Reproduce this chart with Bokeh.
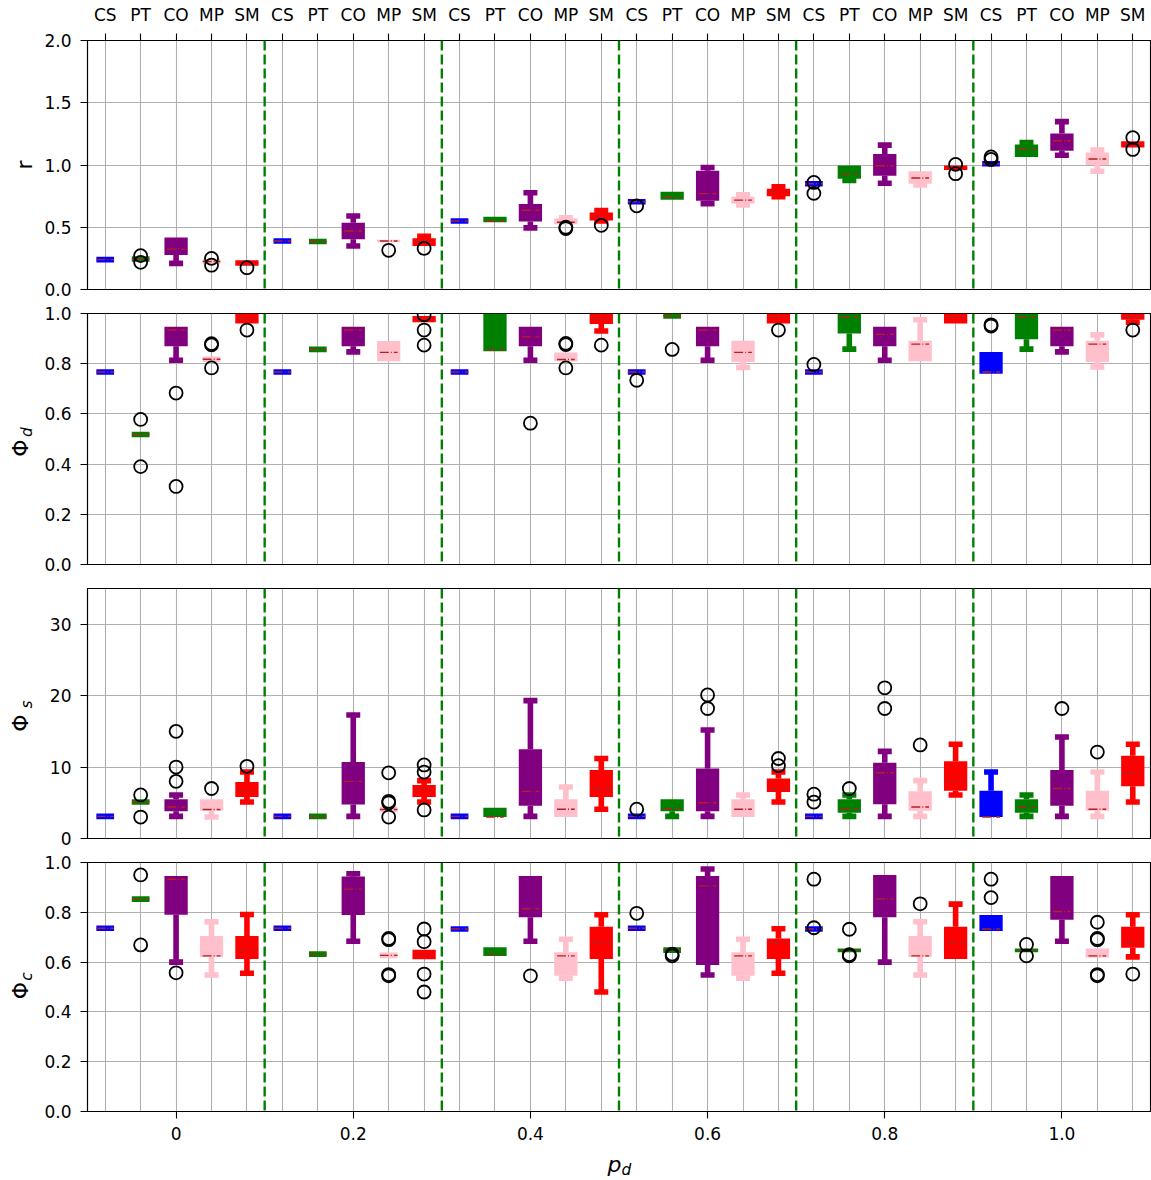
import math
from bokeh.plotting import figure
from bokeh.layouts import column, row
from bokeh.models import FixedTicker, Span, ColumnDataSource, PrintfTickFormatter, Range1d
from bokeh.core.properties import value
from bokeh.embed import file_html
from bokeh.resources import INLINE

# ---------------- data ----------------
PD_VALUES = [0.0, 0.2, 0.4, 0.6, 0.8, 1.0]
METHODS = ["CS", "PT", "CO", "MP", "SM"]
XTICK_LABELS = ["0", "0.2", "0.4", "0.6", "0.8", "1.0"]

# each list: 30 entries, ordered by p_d then method (CS, PT, CO, MP, SM)
# r
R_WLO = [0.24, 0.245, 0.21, 0.225, 0.19,
         0.39, 0.385, 0.35, 0.38, 0.35,
         0.55, 0.54, 0.495, 0.525, 0.55,
         0.705, 0.72, 0.69, 0.68, 0.745,
         0.85, 0.875, 0.853, 0.84, 0.96,
         1.01, 1.065, 1.078, 0.95, 1.14]
R_Q1 = [0.24, 0.245, 0.278, 0.225, 0.19,
        0.39, 0.385, 0.404, 0.38, 0.35,
        0.55, 0.54, 0.546, 0.525, 0.555,
        0.705, 0.72, 0.712, 0.69, 0.75,
        0.85, 0.89, 0.913, 0.85, 0.96,
        1.01, 1.065, 1.115, 1.0, 1.14]
R_MED = [0.24, 0.245, 0.324, 0.225, 0.2,
         0.39, 0.385, 0.47, 0.39, 0.39,
         0.55, 0.55, 0.637, 0.54, 0.583,
         0.705, 0.74, 0.77, 0.718, 0.785,
         0.85, 0.927, 0.994, 0.895, 0.98,
         1.01, 1.13, 1.195, 1.048, 1.165]
R_Q3 = [0.24, 0.245, 0.417, 0.225, 0.235,
        0.39, 0.385, 0.537, 0.4, 0.412,
        0.55, 0.585, 0.686, 0.57, 0.618,
        0.705, 0.785, 0.954, 0.745, 0.81,
        0.85, 0.995, 1.088, 0.95, 0.995,
        1.01, 1.165, 1.254, 1.1, 1.19]
R_WHI = [0.24, 0.245, 0.417, 0.225, 0.235,
         0.39, 0.385, 0.59, 0.4, 0.428,
         0.55, 0.585, 0.777, 0.575, 0.635,
         0.705, 0.785, 0.98, 0.76, 0.825,
         0.85, 0.995, 1.16, 0.95, 0.995,
         1.01, 1.18, 1.348, 1.12, 1.19]
R_OUT = [[], [0.272, 0.218], [], [0.25, 0.195], [0.175],
         [], [], [], [0.315], [0.33],
         [], [], [], [0.5, 0.49], [0.515],
         [0.672], [], [], [], [],
         [0.86, 0.772], [], [], [], [1.005, 0.93],
         [1.065, 1.045], [], [], [], [1.22, 1.125]]

# Phi_d
D_WLO = [0.767, 0.518, 0.814, 0.818, 0.96,
         0.767, 0.857, 0.847, 0.81, 0.965,
         0.767, 0.85, 0.814, 0.81, 0.93,
         0.767, 0.99, 0.814, 0.785, 0.96,
         0.767, 0.858, 0.814, 0.81, 0.96,
         0.76, 0.858, 0.847, 0.787, 0.965]
D_Q1 = [0.767, 0.518, 0.87, 0.818, 0.96,
        0.767, 0.857, 0.87, 0.81, 0.965,
        0.767, 0.85, 0.87, 0.81, 0.958,
        0.767, 0.99, 0.87, 0.807, 0.96,
        0.767, 0.92, 0.87, 0.81, 0.96,
        0.76, 0.897, 0.87, 0.807, 0.975]
D_MED = [0.767, 0.518, 0.934, 0.818, 0.98,
         0.767, 0.857, 0.934, 0.845, 0.98,
         0.767, 0.855, 0.907, 0.817, 0.98,
         0.767, 0.99, 0.934, 0.845, 0.985,
         0.767, 0.985, 0.917, 0.878, 0.985,
         0.767, 0.985, 0.934, 0.878, 0.985]
D_Q3 = [0.767, 0.518, 0.947, 0.818, 1.0,
        0.767, 0.857, 0.947, 0.89, 0.99,
        0.767, 1.0, 0.947, 0.845, 1.0,
        0.767, 0.99, 0.947, 0.891, 1.0,
        0.767, 1.0, 0.947, 0.891, 1.0,
        0.847, 1.0, 0.947, 0.891, 1.0]
D_WHI = [0.767, 0.518, 0.947, 0.818, 1.0,
         0.767, 0.857, 0.947, 0.89, 0.99,
         0.767, 1.0, 0.947, 0.845, 1.0,
         0.767, 0.99, 0.947, 0.891, 1.0,
         0.767, 1.0, 0.947, 0.975, 1.0,
         0.847, 1.0, 0.947, 0.915, 1.0]
D_OUT = [[], [0.578, 0.39], [0.683, 0.311], [0.88, 0.875, 0.783], [0.934],
         [], [], [], [], [0.995, 0.934, 0.874],
         [], [], [0.563], [0.881, 0.876, 0.783], [0.874],
         [0.734], [0.857], [], [], [0.934],
         [0.797], [], [], [], [],
         [0.955, 0.95], [], [], [], [0.934]]

# Phi_s
S_WLO = [3.1, 5.1, 3.1, 3.0, 5.1,
         3.1, 3.1, 3.1, 4.05, 5.1,
         3.1, 3.0, 3.1, 3.0, 4.1,
         3.1, 3.1, 3.1, 3.0, 5.1,
         3.1, 3.1, 3.1, 3.1, 6.1,
         3.0, 3.1, 3.1, 3.1, 5.1]
S_Q1 = [3.1, 5.1, 3.8, 3.9, 5.8,
        3.1, 3.1, 4.75, 4.05, 5.8,
        3.1, 3.0, 4.6, 3.0, 5.8,
        3.1, 3.8, 3.8, 3.0, 6.5,
        3.1, 3.6, 4.8, 3.9, 6.7,
        3.0, 3.6, 4.6, 3.9, 7.3]
S_MED = [3.1, 5.1, 4.4, 4.05, 6.7,
         3.1, 3.1, 8.0, 4.05, 6.9,
         3.1, 3.0, 6.6, 4.1, 7.0,
         3.1, 4.1, 5.0, 4.1, 7.0,
         3.1, 4.1, 9.2, 4.4, 8.0,
         3.0, 4.4, 7.0, 4.1, 9.2]
S_Q3 = [3.1, 5.1, 5.5, 5.5, 7.9,
        3.1, 3.1, 10.7, 4.05, 7.5,
        3.1, 4.3, 12.5, 5.5, 9.6,
        3.1, 5.5, 9.8, 5.5, 8.4,
        3.1, 5.5, 10.6, 6.6, 10.8,
        6.7, 5.5, 9.6, 6.7, 11.6]
S_WHI = [3.1, 5.1, 6.1, 5.5, 9.3,
         3.1, 3.1, 17.3, 4.05, 8.1,
         3.1, 4.3, 19.3, 7.2, 11.2,
         3.1, 5.5, 15.2, 6.1, 9.3,
         3.1, 6.1, 12.2, 8.1, 13.2,
         9.3, 6.1, 14.2, 9.3, 13.2]
S_OUT = [[], [6.1, 3.0], [15.0, 10.0, 8.0], [7.0], [10.1],
         [], [], [], [9.2, 5.2, 5.0, 3.0], [10.3, 9.3, 4.0],
         [], [], [], [], [],
         [4.1], [], [20.1, 18.2], [], [11.2, 10.2],
         [6.2, 5.1], [7.0], [21.1, 18.2], [13.1], [],
         [], [], [18.2], [12.1], []]

# Phi_c
C_WLO = [0.736, 0.853, 0.6, 0.548, 0.555,
         0.736, 0.632, 0.684, 0.627, 0.611,
         0.733, 0.625, 0.684, 0.535, 0.48,
         0.736, 0.648, 0.548, 0.535, 0.555,
         0.733, 0.64, 0.6, 0.548, 0.612,
         0.725, 0.64, 0.684, 0.618, 0.621]
C_Q1 = [0.736, 0.853, 0.79, 0.62, 0.612,
        0.736, 0.632, 0.789, 0.627, 0.611,
        0.733, 0.625, 0.78, 0.545, 0.612,
        0.736, 0.648, 0.588, 0.545, 0.612,
        0.733, 0.64, 0.78, 0.62, 0.612,
        0.725, 0.64, 0.77, 0.618, 0.658]
C_MED = [0.736, 0.853, 0.933, 0.625, 0.648,
         0.736, 0.632, 0.893, 0.627, 0.625,
         0.733, 0.632, 0.814, 0.625, 0.68,
         0.736, 0.648, 0.906, 0.625, 0.679,
         0.733, 0.648, 0.854, 0.625, 0.679,
         0.733, 0.648, 0.803, 0.625, 0.679]
C_Q3 = [0.736, 0.853, 0.946, 0.705, 0.705,
        0.736, 0.632, 0.944, 0.627, 0.65,
        0.733, 0.66, 0.946, 0.64, 0.742,
        0.736, 0.648, 0.946, 0.64, 0.695,
        0.733, 0.655, 0.95, 0.705, 0.742,
        0.789, 0.655, 0.946, 0.655, 0.742]
C_WHI = [0.736, 0.853, 0.946, 0.762, 0.791,
         0.736, 0.632, 0.955, 0.627, 0.65,
         0.733, 0.66, 0.946, 0.692, 0.79,
         0.736, 0.648, 0.974, 0.692, 0.734,
         0.733, 0.655, 0.95, 0.762, 0.833,
         0.789, 0.655, 0.946, 0.655, 0.79]
C_OUT = [[], [0.95, 0.669], [0.557], [], [],
         [], [], [], [0.695, 0.69, 0.55, 0.545], [0.733, 0.682, 0.552, 0.48],
         [], [], [0.545], [], [],
         [0.796], [0.632, 0.625], [], [], [],
         [0.933, 0.738], [0.732, 0.63, 0.625], [], [0.834], [],
         [0.933, 0.859], [0.671, 0.625], [], [0.76, 0.695, 0.69, 0.55, 0.545], [0.552]]

# ---------------- layout / style ----------------
OFFSETS = [-0.08, -0.04, 0.0, 0.04, 0.08]
COLORS = ["#0000ff", "#008000", "#800080", "#ffc0cb", "#ff0000"]
MEDIAN_COLOR = "#b22222"
FONT = "DejaVu Sans"
TICK_FS = "17px"
LABEL_FS = "22px"
SUB_FS = "15.4px"
LAB_W = 40            # width of the strip holding the y labels
PAGE_W = 1151
W = PAGE_W - LAB_W    # width of each panel figure
PANELS_H = 1145       # height of the stacked panels
STRIP_H = 33          # height of the x-label strip
TOTAL_H = PANELS_H + STRIP_H
LW = 5.6

positions = [round(pdv + off, 2) for pdv in PD_VALUES for off in OFFSETS]
separators = [round((PD_VALUES[i] + PD_VALUES[i + 1]) / 2, 2) for i in range(len(PD_VALUES) - 1)]
x_range = Range1d(-0.1, 1.1)


def make_fig(height, y_end, yticks, yfmt, top, bottom, xloc):
    p = figure(width=W, height=height, x_range=x_range, y_range=Range1d(0, y_end),
               output_backend="svg", toolbar_location=None, x_axis_location=xloc,
               min_border_left=87 - LAB_W, min_border_right=1,
               min_border_top=top, min_border_bottom=bottom)
    p.background_fill_color = "white"
    p.border_fill_color = "white"
    p.outline_line_color = "black"
    p.outline_line_width = 1.1
    p.yaxis.ticker = FixedTicker(ticks=yticks)
    p.yaxis.formatter = PrintfTickFormatter(format=yfmt)
    for ax in p.axis:
        ax.major_label_text_font = FONT
        ax.major_label_text_font_size = TICK_FS
        ax.major_label_text_color = "black"
        ax.axis_line_color = "black"
        ax.axis_line_width = 1.1
        ax.major_tick_line_color = "black"
        ax.major_tick_line_width = 1.1
        ax.major_tick_out = 7
        ax.major_tick_in = 0
        ax.minor_tick_out = 0
        ax.minor_tick_in = 0
    p.yaxis.major_label_standoff = 9
    p.ygrid.grid_line_color = "#b0b0b0"
    p.ygrid.grid_line_width = 1.1
    p.xgrid.ticker = FixedTicker(ticks=positions)
    p.xgrid.grid_line_color = "#b0b0b0"
    p.xgrid.grid_line_width = 1.1
    for s in separators:
        p.add_layout(Span(location=s, dimension="height", line_color="#008000",
                          line_dash="10 4", line_width=2.4))
    return p


def draw_boxes(p, wlo, q1, med, q3, whi, outs):
    box = dict(x=[], y=[], h=[], c=[])
    deg = dict(x=[], y=[], c=[])
    wsk = dict(x=[], y0=[], y1=[], c=[])
    cap = dict(x=[], y=[], c=[])
    mdn = dict(x0=[], x1=[], y=[])
    fl = dict(x=[], y=[])
    for i, x in enumerate(positions):
        c = COLORS[i % len(METHODS)]
        if q3[i] > q1[i]:
            box["x"].append(x); box["y"].append((q1[i] + q3[i]) / 2)
            box["h"].append(q3[i] - q1[i]); box["c"].append(c)
        else:
            deg["x"].append(x); deg["y"].append(q1[i]); deg["c"].append(c)
        if whi[i] > q3[i]:
            wsk["x"].append(x); wsk["y0"].append(q3[i]); wsk["y1"].append(whi[i]); wsk["c"].append(c)
            cap["x"].append(x); cap["y"].append(whi[i]); cap["c"].append(c)
        if wlo[i] < q1[i]:
            wsk["x"].append(x); wsk["y0"].append(q1[i]); wsk["y1"].append(wlo[i]); wsk["c"].append(c)
            cap["x"].append(x); cap["y"].append(wlo[i]); cap["c"].append(c)
        mdn["x0"].append(x - 0.01); mdn["x1"].append(x + 0.01); mdn["y"].append(med[i])
        for o in outs[i]:
            fl["x"].append(x); fl["y"].append(o)
    p.segment(x0="x", y0="y0", x1="x", y1="y1", color="c", line_width=LW,
              source=ColumnDataSource(wsk))
    p.rect(x="x", y="y", width=14, height=LW, width_units="screen", height_units="screen",
           fill_color="c", line_color=None, source=ColumnDataSource(cap))
    p.rect(x="x", y="y", width=23.3, height="h", width_units="screen",
           fill_color="c", line_color=None, source=ColumnDataSource(box))
    p.rect(x="x", y="y", width=17.7, height=LW, width_units="screen", height_units="screen",
           fill_color="c", line_color=None, source=ColumnDataSource(deg))
    p.segment(x0="x0", y0="y", x1="x1", y1="y", line_color=MEDIAN_COLOR, line_width=1.4,
              line_dash="9 2 1 2", source=ColumnDataSource(mdn))
    p.scatter(x="x", y="y", marker="circle", size=13, fill_color=None, line_color="black",
              line_width=1.8, source=ColumnDataSource(fl))


def blank_fig(width, height):
    # pixel coordinates: x from the figure's left, y upward from its bottom
    f = figure(width=width, height=height, x_range=Range1d(0, width), y_range=Range1d(0, height),
               output_backend="svg", toolbar_location=None,
               x_axis_location=None, y_axis_location=None,
               min_border=0, min_border_left=0, min_border_right=0,
               min_border_top=0, min_border_bottom=0)
    f.grid.visible = False
    f.outline_line_color = None
    f.background_fill_color = "white"
    f.border_fill_color = "white"
    return f


def put_text(f, x, y, txt, size, italic=False, angle=0.0, align="center"):
    f.text(x=[x], y=[y], text=[txt], angle=angle, text_font=value(FONT),
           text_font_size=value(size), text_font_style="italic" if italic else "normal",
           text_align=align, text_baseline="alphabetic", text_color="black")


# panel 1: r
p1 = make_fig(301, 2.0, [0, 0.5, 1.0, 1.5, 2.0], "%.1f", 40, 12, "above")
p1.xaxis.ticker = FixedTicker(ticks=positions)
p1.xaxis.major_label_overrides = {pos: METHODS[i % len(METHODS)] for i, pos in enumerate(positions)}
p1.xaxis.major_label_standoff = 9
draw_boxes(p1, R_WLO, R_Q1, R_MED, R_Q3, R_WHI, R_OUT)

# panel 2: Phi_d
p2 = make_fig(275, 1.0, [0, 0.2, 0.4, 0.6, 0.8, 1.0], "%.1f", 12, 12, None)
draw_boxes(p2, D_WLO, D_Q1, D_MED, D_Q3, D_WHI, D_OUT)

# panel 3: Phi_s
p3 = make_fig(274, 35, [0, 10, 20, 30], "%d", 12, 12, None)
draw_boxes(p3, S_WLO, S_Q1, S_MED, S_Q3, S_WHI, S_OUT)

# panel 4: Phi_c
p4 = make_fig(295, 1.0, [0, 0.2, 0.4, 0.6, 0.8, 1.0], "%.1f", 12, 34, "below")
p4.xaxis.ticker = FixedTicker(ticks=PD_VALUES)
p4.xaxis.major_label_overrides = {v: XTICK_LABELS[i] for i, v in enumerate(PD_VALUES)}
p4.xaxis.major_label_standoff = 8
draw_boxes(p4, C_WLO, C_Q1, C_MED, C_Q3, C_WHI, C_OUT)

# y-axis labels: strip on the left (positions given as page pixels, converted to y-up)
lab = blank_fig(LAB_W, PANELS_H)
rot = math.pi / 2
for (px, py, txt, size, ital) in [(23.8, 164.5, "r", LABEL_FS, False),
                                  (20.3, 447.5, "Φ", LABEL_FS, False),
                                  (26.4, 431.5, "d", SUB_FS, True),
                                  (20.3, 722.5, "Φ", LABEL_FS, False),
                                  (26.4, 704, "s", SUB_FS, True),
                                  (20.3, 990, "Φ", LABEL_FS, False),
                                  (26.4, 976, "c", SUB_FS, True)]:
    put_text(lab, px, PANELS_H - py, txt, size, italic=ital, angle=rot)

# x-axis label strip across the full page width
strip = blank_fig(PAGE_W, STRIP_H)
put_text(strip, 607, TOTAL_H - 1163.8, "p", LABEL_FS, italic=True, align="left")
put_text(strip, 621, TOTAL_H - 1169.9, "d", SUB_FS, italic=True, align="left")

layout = column(row(lab, column(p1, p2, p3, p4)), strip)
open("out.html", "w").write(file_html(layout, INLINE))
